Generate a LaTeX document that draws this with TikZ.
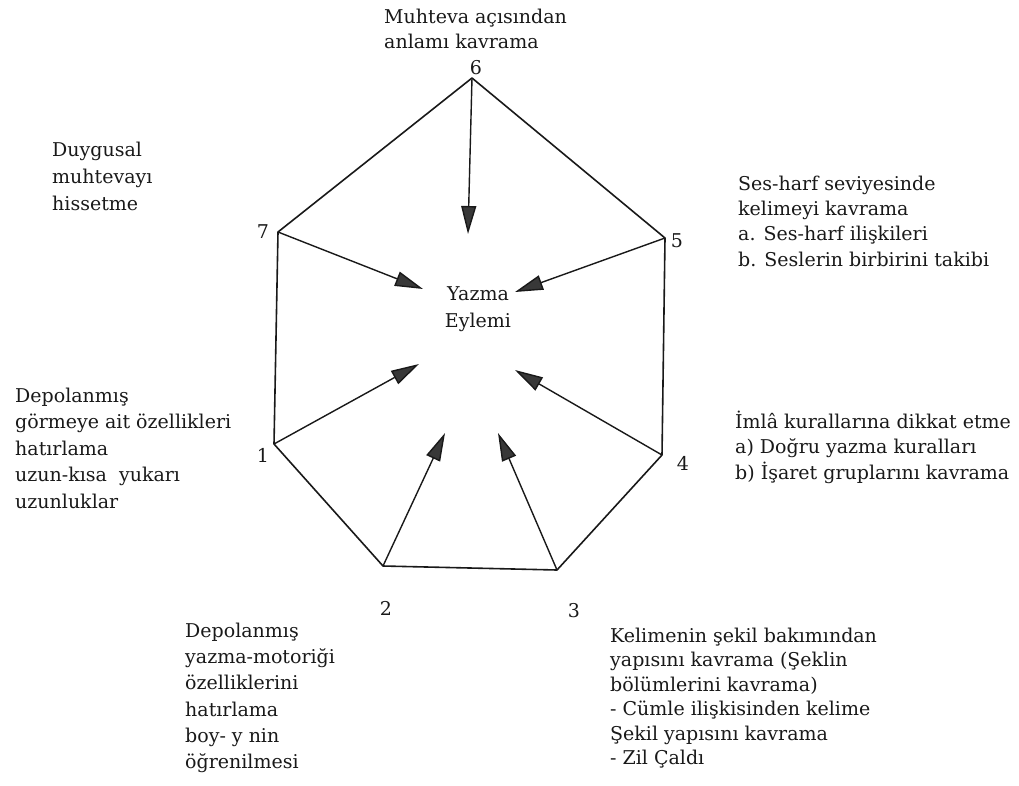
\documentclass[tikz,border=0pt]{standalone}
\usepackage{fontspec}
\setmainfont{DejaVu Serif}
\usetikzlibrary{arrows.meta}
\newcommand{\fl}{\rule{0pt}{19pt}}
\begin{document}
\begin{tikzpicture}[x=1pt,y=-1pt,
  edge/.style={line width=1.6pt, draw=black!90, line join=round},
  arr/.style={line width=1.4pt, draw=black!90, -{Triangle[length=28pt,width=15pt,fill=black!78]}},
  lbl/.style={anchor=north west, inner sep=0pt, align=left, text=black!90},
  num/.style={anchor=base, inner sep=0pt, text=black!90, font=\fontsize{19}{26}\selectfont}
]
\useasboundingbox (0,0) rectangle (1019,785);
% vertices
\coordinate (v6) at (472,78);
\coordinate (v7) at (278,232);
\coordinate (v5) at (665,238);
\coordinate (v1) at (274,444);
\coordinate (v4) at (662,455);
\coordinate (v2) at (383,566);
\coordinate (v3) at (557,570);
% arrow tips
\coordinate (t6) at (468,234);
\coordinate (t7) at (423,289);
\coordinate (t5) at (515,292);
\coordinate (t1) at (419,364);
\coordinate (t4) at (515,370);
\coordinate (t2) at (445,433);
\coordinate (t3) at (498,433);
% polygon
\draw[edge] (v6) -- (v5) -- (v4) -- (v3) -- (v2) -- (v1) -- (v7) -- cycle;
% arrows
\foreach \v in {6,7,5,1,4,2,3} \draw[arr] (v\v) -- (t\v);
% centre
\node[anchor=north, inner sep=0pt, align=center, text=black!90,
  font=\fontsize{19}{27}\selectfont] (yazma) at (478,281) {\fl Yazma\\Eylemi};
% numbers
\node[num] (n6) at (476,74) {6};
\node[num] (n7) at (263,238) {7};
\node[num] (n5) at (677,247) {5};
\node[num] (n1) at (263,462) {1};
\node[num] (n4) at (683,470) {4};
\node[num] (n2) at (386,615) {2};
\node[num] (n3) at (574,617) {3};
% labels
\node[lbl, font=\fontsize{19}{25}\selectfont] (l6) at (384,4)
  {\fl Muhteva açısından\\anlamı kavrama};
\node[lbl, font=\fontsize{19}{27}\selectfont] (l7) at (52,137)
  {\fl Duygusal\\muhtevayı\\hissetme};
\node[lbl, font=\fontsize{19}{25.3}\selectfont] (l5) at (738,171)
  {\fl Ses-harf seviyesinde\\kelimeyi kavrama\\a. Ses-harf ilişkileri\\b. Seslerin birbirini takibi};
\node[lbl, font=\fontsize{19}{26.5}\selectfont] (l1) at (15,383)
  {\fl Depolanmış\\görmeye ait özellikleri\\hatırlama\\uzun-kısa\ \ yukarı\\uzunluklar};
\node[lbl, font=\fontsize{19}{25.5}\selectfont] (l4) at (735,409)
  {\fl İmlâ kurallarına dikkat etme\\a) Doğru yazma kuralları\\b) İşaret gruplarını kavrama};
\node[lbl, font=\fontsize{19}{26.3}\selectfont] (l2) at (185,618)
  {\fl Depolanmış\\yazma-motoriği\\özelliklerini\\hatırlama\\boy- y nin\\öğrenilmesi};
\node[lbl, font=\fontsize{19}{24.5}\selectfont] (l3) at (610,623)
  {\fl Kelimenin şekil bakımından\\yapısını kavrama (Şeklin\\bölümlerini kavrama)\\- Cümle ilişkisinden kelime\\Şekil yapısını kavrama\\- Zil Çaldı};
\end{tikzpicture}
\end{document}
